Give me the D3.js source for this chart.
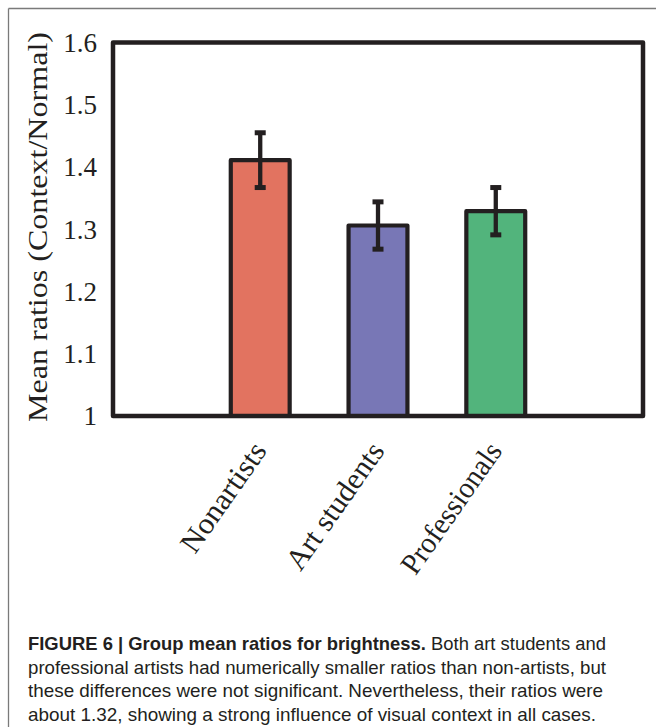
<!DOCTYPE html>
<html>
<head>
<meta charset="utf-8">
<script src="https://cdn.jsdelivr.net/npm/d3@7"></script>
<style>
html,body{margin:0;padding:0;background:#fff;}
svg{display:block;}
</style>
</head>
<body>
<script>
const categories = ["Nonartists", "Art students", "Professionals"];
const means = [1.411, 1.306, 1.329];
const errors = [0.044, 0.038, 0.038];
const colors = ["#e27360", "#7877b6", "#52b47c"];
const yTicks = [1, 1.1, 1.2, 1.3, 1.4, 1.5, 1.6];
const yTickLabels = ["1", "1.1", "1.2", "1.3", "1.4", "1.5", "1.6"];
const yLabel = "Mean ratios (Context/Normal)";
const captionLines = [
  [{t:"FIGURE 6 | Group mean ratios for brightness.", b:true}, {t:" Both art students and", b:false}],
  [{t:"professional artists had numerically smaller ratios than non-artists, but", b:false}],
  [{t:"these differences were not significant. Nevertheless, their ratios were", b:false}],
  [{t:"about 1.32, showing a strong influence of visual context in all cases.", b:false}]
];
const captionWidths = [578, 578, 575, 568];
const xLabelLengths = [127, 148, 153];

const W = 656, H = 727;
const svg = d3.select("body").append("svg").attr("width", W).attr("height", H);
const ink = "#231f20";

// outer figure border (top and left)
svg.append("line").attr("x1", 8.5).attr("x2", W).attr("y1", 8.5).attr("y2", 8.5)
  .attr("stroke", "#7a7a7a").attr("stroke-width", 1.3);
svg.append("line").attr("x1", 8.5).attr("x2", 8.5).attr("y1", 8.5).attr("y2", H)
  .attr("stroke", "#7a7a7a").attr("stroke-width", 1.3);

const x = d3.scaleLinear().domain([-0.25, 4.25]).range([113, 643]);
const y = d3.scaleLinear().domain([1, 1.6]).range([416, 42.5]);
const pos = categories.map((c, i) => i + 1);
const bw = 0.5;

// bars
svg.append("g").selectAll("rect").data(categories).join("rect")
  .attr("x", (d, i) => x(pos[i] - bw / 2))
  .attr("width", (d, i) => x(pos[i] + bw / 2) - x(pos[i] - bw / 2))
  .attr("y", (d, i) => y(means[i]))
  .attr("height", (d, i) => y(1) - y(means[i]))
  .attr("fill", (d, i) => colors[i])
  .attr("stroke", ink).attr("stroke-width", 4.2).attr("stroke-linejoin", "round");

// error bars
const eg = svg.append("g");
categories.forEach((c, i) => {
  const cx = x(pos[i]);
  eg.append("line").attr("x1", cx).attr("x2", cx)
    .attr("y1", y(means[i] + errors[i])).attr("y2", y(means[i] - errors[i]))
    .attr("stroke", ink).attr("stroke-width", 4.3);
  [means[i] + errors[i], means[i] - errors[i]].forEach(v => {
    eg.append("line").attr("x1", cx - 5.5).attr("x2", cx + 5.5)
      .attr("y1", y(v)).attr("y2", y(v))
      .attr("stroke", ink).attr("stroke-width", 5);
  });
});

// frame
svg.append("rect").attr("x", x(-0.25)).attr("y", y(1.6))
  .attr("width", x(4.25) - x(-0.25)).attr("height", y(1) - y(1.6))
  .attr("fill", "none").attr("stroke", ink).attr("stroke-width", 4.5)
  .attr("stroke-linejoin", "round");

// y axis
const yAxis = d3.axisLeft(y).tickValues(yTicks).tickSize(0).tickPadding(0)
  .tickFormat((d, i) => yTickLabels[i]);
const yg = svg.append("g").attr("transform", "translate(97,0)").call(yAxis);
yg.select(".domain").remove();
yg.selectAll("text").attr("font-family", "Liberation Serif, serif")
  .attr("font-size", 27).attr("fill", ink).attr("dy", "0.33em").attr("x", 0);

// y label
svg.append("text")
  .attr("transform", "translate(47,227) rotate(-90)")
  .attr("text-anchor", "middle")
  .attr("font-family", "Liberation Serif, serif").attr("font-size", 28)
  .attr("fill", ink)
  .attr("textLength", 390).attr("lengthAdjust", "spacingAndGlyphs")
  .text(yLabel);

// x axis labels
const xAxis = d3.axisBottom(x).tickValues(pos).tickSize(0)
  .tickFormat((d, i) => categories[i]);
const xg = svg.append("g").attr("transform", "translate(0,416)").call(xAxis);
xg.select(".domain").remove();
xg.selectAll("text")
  .attr("font-family", "Liberation Serif, serif").attr("font-size", 30)
  .attr("fill", ink).attr("text-anchor", "end")
  .attr("y", 0).attr("dy", 0)
  .attr("textLength", (d, i) => xLabelLengths[i]).attr("lengthAdjust", "spacingAndGlyphs")
  .attr("transform", "translate(7,35) rotate(-55)");

// caption
const cap = svg.append("g").attr("font-family", "Liberation Sans, Arial, sans-serif")
  .attr("font-size", 19).attr("fill", "#231f20");
captionLines.forEach((line, li) => {
  const t = cap.append("text").attr("x", 28).attr("y", 650 + li * 23.6)
    .attr("textLength", captionWidths[li]).attr("lengthAdjust", "spacingAndGlyphs");
  line.forEach(seg => {
    t.append("tspan").attr("font-weight", seg.b ? "bold" : "normal").text(seg.t);
  });
});
</script>
</body>
</html>
